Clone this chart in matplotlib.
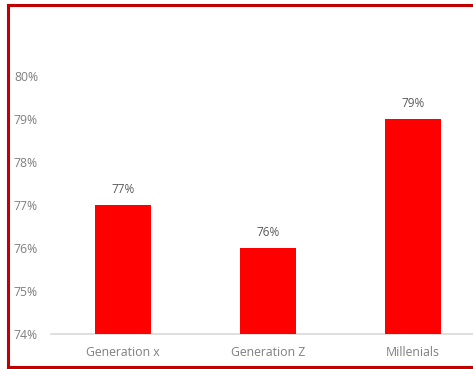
import matplotlib
matplotlib.use("Agg")
import matplotlib.pyplot as plt
from matplotlib.lines import Line2D

categories = ["Generation x", "Generation Z", "Millenials"]
values = [77, 76, 79]
yticks = [74, 75, 76, 77, 78, 79, 80]

W, H = 473, 369
fig = plt.figure(figsize=(W / 100, H / 100), dpi=100)
plt.rcParams['font.family'] = ['Open Sans', 'DejaVu Sans']

left_px, right_px = 50.5, 485.5
bot_px, top_px = 334, 76
ax = fig.add_axes([left_px / W, (H - bot_px) / H, (right_px - left_px) / W, (bot_px - top_px) / H])

x = range(len(categories))
ax.bar(x, [v - 74 for v in values], bottom=74, width=0.39, color="#FF0000", zorder=3)
for xi, v in zip(x, values):
    ax.text(xi, v + 0.22, f"{v}%", ha="center", va="bottom", fontsize=8.5, color="#595959")

ax.set_xlim(-0.5, len(categories) - 0.5)
ax.set_ylim(74, 80)
ax.set_yticks(yticks)
ax.set_yticklabels([f"{t}%" for t in yticks])
ax.set_xticks(list(x))
ax.set_xticklabels(categories)
ax.tick_params(axis="both", length=0, labelsize=8.8, labelcolor="#7F7F7F")
ax.tick_params(axis="y", pad=9)
ax.tick_params(axis="x", pad=9)
for s in ["top", "right", "left"]:
    ax.spines[s].set_visible(False)
ax.spines["bottom"].set_color("#D9D9D9")
ax.spines["bottom"].set_linewidth(1.2)
ax.patch.set_alpha(0)

# red frame
c = "#C00000"
lw = 2.2
fig.add_artist(Line2D([7.5 / W, 7.5 / W], [(H - 4.5) / H, (H - 366.5) / H], color=c, lw=lw, transform=fig.transFigure))
fig.add_artist(Line2D([7.5 / W, 1.02], [(H - 4.5) / H, (H - 4.5) / H], color=c, lw=lw, transform=fig.transFigure))
fig.add_artist(Line2D([7.5 / W, 1.02], [(H - 366.5) / H, (H - 366.5) / H], color=c, lw=lw, transform=fig.transFigure))

fig.savefig("out.png", dpi=100)
